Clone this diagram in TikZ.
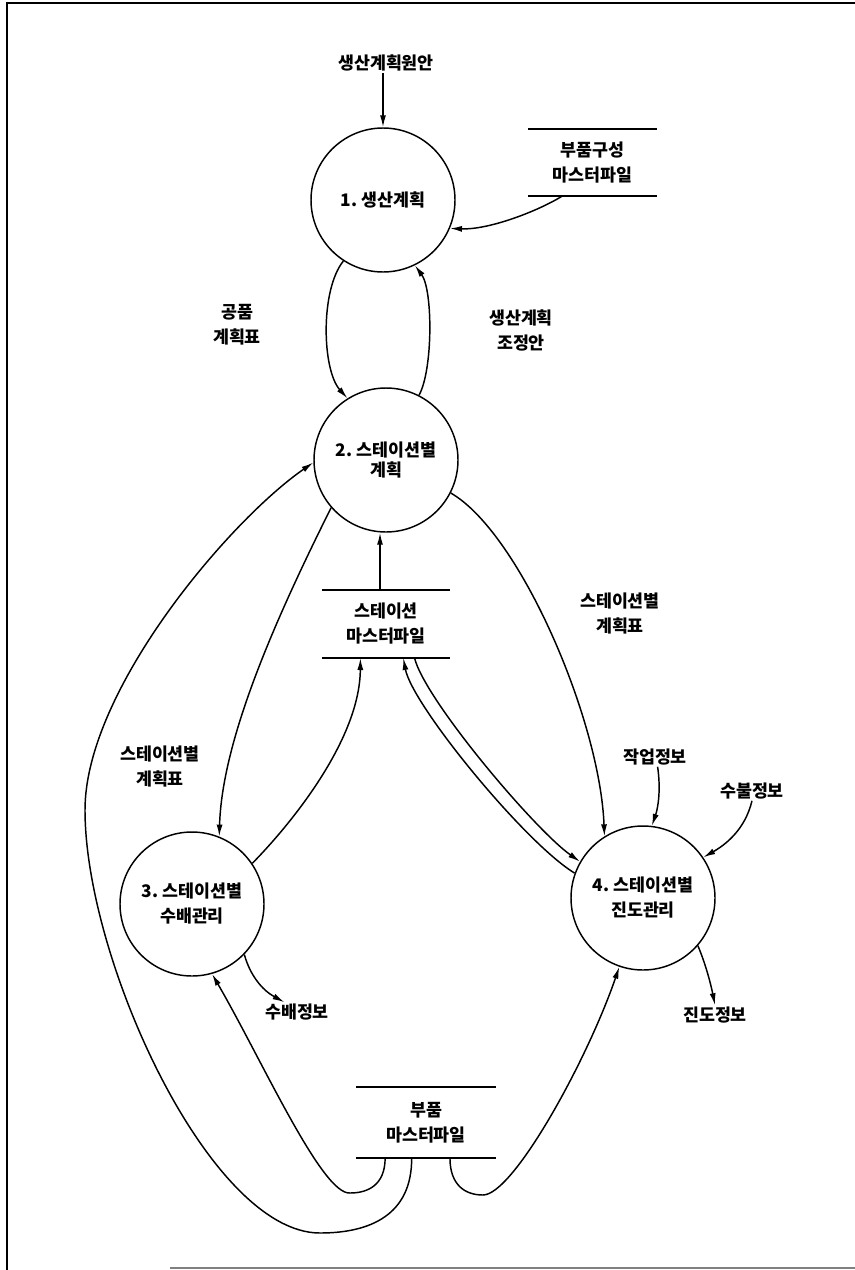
\documentclass[tikz,border=0pt]{standalone}
\usepackage{fontspec}
\newfontfamily\kr{Noto Sans CJK KR}
\usetikzlibrary{arrows.meta}
\tikzset{
  proc/.style={circle,draw,line width=1.1pt,minimum size=108pt,inner sep=0pt,align=center,font=\kr\bfseries\fontsize{13pt}{18.75pt}\selectfont},
  store/.style={inner sep=0pt,outer sep=0pt,align=center,font=\kr\bfseries\fontsize{13pt}{18.75pt}\selectfont},
  lbl/.style={inner sep=1pt,align=center,font=\kr\bfseries\fontsize{13pt}{18.75pt}\selectfont},
  flow/.style={line width=1.1pt,-{Latex[length=9pt,width=4.5pt]}}
}
\begin{document}
\begin{tikzpicture}[x=0.75pt,y=0.75pt,yscale=-1,xscale=1]
\useasboundingbox (0,0) rectangle (855,1270);

%Frame
\draw [line width=0.8pt] (855,3) -- (7,3) -- (7,1270) ;
\draw [color=gray, line width=0.8pt] (170,1268) -- (855,1268) ;

%Shape: Circle
\node [proc] (p1) at (383,200) {1.\ 생산계획};
%Shape: Circle
\node [proc, font=\kr\bfseries\fontsize{13pt}{15pt}\selectfont] (p2) at (386,460) {2.\ 스테이션별\\계획};
%Shape: Circle
\node [proc] (p3) at (192,904) {3.\ 스테이션별\\수배관리};
%Shape: Circle
\node [proc] (p4) at (643,898) {4.\ 스테이션별\\진도관리};

%Data stores
\node [store, minimum width=96.75pt, minimum height=50.25pt] (s1) at (592.5,162.5) {부품구성\\마스터파일};
\node [store, minimum width=96pt, minimum height=51pt] (s2) at (386,624) {스테이션\\마스터파일};
\node [store, minimum width=105pt, minimum height=53.25pt] (s3) at (426,1122.5) {부품\\마스터파일};
\foreach \s in {s1,s2,s3}
  \draw [line width=1.1pt] (\s.north west) -- (\s.north east) (\s.south west) -- (\s.south east) ;

% Text Node
\node [lbl] (t0) at (386,63) {생산계획원안};
% Text Node
\node [lbl] (l1) at (237,325) {공품\\계획표};
% Text Node
\node [lbl] (l2) at (521,330) {생산계획\\조정안};
% Text Node
\node [lbl] (l3) at (160,766) {스테이션별\\계획표};
% Text Node
\node [lbl] (l4) at (620,613) {스테이션별\\계획표};
% Text Node
\node [lbl] (w1) at (655,757) {작업정보};
% Text Node
\node [lbl] (w2) at (752,791) {수불정보};
% Text Node
\node [lbl] (w3) at (297,1012) {수배정보};
% Text Node
\node [lbl] (w4) at (715,1015) {진도정보};

%Straight Lines
\draw [flow] (p1.north |- t0.south) -- (p1.north) ;
\draw [flow] (s2.100) -- (s2.100 |- p2.south) ;

%Curve Lines
\draw [flow] (s1.228) .. controls (540,210) and (490,230) .. (p1.337) ;
\draw [flow] (p1.237) .. controls (320,290) and (322,370) .. (p2.122) ;
\draw [flow] (p2.63) .. controls (433,370) and (433,290) .. (p1.296) ;
\draw [flow] (p2.221) .. controls (275,620) and (222,740) .. (p3.68) ;
\draw [flow] (p3.34) .. controls (290,825) and (360,740) .. (s2.233) ;
\draw [flow] (p2.333) .. controls (520,533) and (600,720) .. (p4.122) ;
\draw [flow] (s2.310) .. controls (425,700) and (535,830) .. (p4.150) ;
\draw [flow] (p4.160) .. controls (525,843) and (412,705) .. (s2.297) ;

%Curve Lines
\draw [flow] (s3.248) .. controls (412,1215) and (370,1233) .. (320,1233) .. controls (210,1233) and (85,960) .. (85,810) .. controls (85,690) and (230,520) .. (p2.182) ;
\draw [flow] (s3.221) .. controls (385,1185) and (368,1193) .. (350,1193) .. controls (322,1195) and (262,1060) .. (p3.286) ;
\draw [flow] (s3.304) .. controls (450,1185) and (465,1195) .. (483,1195) .. controls (513,1195) and (587,1061) .. (p4.251) ;

%Curve Lines
\draw [flow] (w1.285) .. controls (661,790) and (658,808) .. (p4.83) ;
\draw [flow] (w2.270) .. controls (745,830) and (725,845) .. (p4.34) ;
\draw [flow] (p3.316) .. controls (250,975) and (262,990) .. (w3.142) ;
\draw [flow] (p4.319) .. controls (706,965) and (711,985) .. (w4.north) ;

\end{tikzpicture}
\end{document}
